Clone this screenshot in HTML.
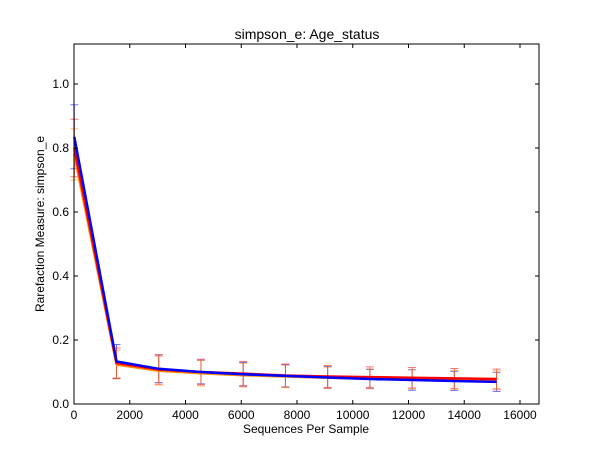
<!DOCTYPE html>
<html><head><meta charset="utf-8"><style>
body{margin:0;background:#fff;font-family:"Liberation Sans",sans-serif}
svg text{font-family:"Liberation Sans",sans-serif;fill:#000}
</style></head><body>
<svg id="chart" width="600" height="450" xmlns="http://www.w3.org/2000/svg">
<rect width="600" height="450" fill="#fff"/>
<text x="307" y="39" font-size="14" text-anchor="middle">simpson_e: Age_status</text>
<text x="306" y="433" font-size="12" text-anchor="middle">Sequences Per Sample</text>
<text transform="translate(44,224) rotate(-90)" font-size="12" text-anchor="middle">Rarefaction Measure: simpson_e</text>
<g id="marks"></g>
<g id="axes"></g>
</svg>
<script>
const xs = [10,1525,3040,4555,6070,7585,9100,10615,12130,13645,15160];
const blueVals = [0.835,0.133,0.110,0.100,0.093,0.088,0.083,0.078,0.075,0.072,0.069];
const redVals = [0.800,0.128,0.108,0.100,0.095,0.089,0.086,0.084,0.082,0.080,0.078];
const orangeVals = [0.780,0.123,0.104,0.096,0.090,0.086,0.082,0.079,0.077,0.075,0.074];
const blueErr = [0.100,0.053,0.043,0.037,0.037,0.035,0.034,0.030,0.032,0.030,0.030];
const redErr = [0.090,0.047,0.046,0.040,0.038,0.036,0.034,0.032,0.032,0.031,0.031];
const orangeErr = [0.080,0.045,0.045,0.040,0.037,0.035,0.033,0.031,0.030,0.030,0.030];
const xTicks = [0,2000,4000,6000,8000,10000,12000,14000,16000];
const yTicks = [0.0,0.2,0.4,0.6,0.8,1.0];
const L=74,R=539,T=44,B=404, XMAX=16682, YMAX=1.125;
const sx=v=>L+v/XMAX*(R-L), sy=v=>B-v/YMAX*(B-T);
const NS="http://www.w3.org/2000/svg";
const marks=document.getElementById('marks'), axes=document.getElementById('axes');
function mk(tag,attrs,parent){const e=document.createElementNS(NS,tag);for(const k in attrs)e.setAttribute(k,attrs[k]);parent.appendChild(e);return e;}
const series=[["blue",blueVals,blueErr,"#0000ff"],["red",redVals,redErr,"#ff0000"],["orange",orangeVals,orangeErr,"#ff8c00"]];
series.forEach(([nm,vals,errs,col])=>{
  vals.forEach((v,i)=>{
    const x=sx(xs[i]);
    const g=mk('g',{stroke:col,'stroke-width':1,opacity:0.55},marks);
    
    
    mk('line',{x1:x,x2:x,y1:sy(v-errs[i]),y2:sy(v+errs[i])},g);
    mk('line',{x1:x-4,x2:x+4,y1:sy(v-errs[i]),y2:sy(v-errs[i])},g);
    mk('line',{x1:x-4,x2:x+4,y1:sy(v+errs[i]),y2:sy(v+errs[i])},g);
  });
});
[["orange",orangeVals,"#ff8c00"],["red",redVals,"#ff0000"],["blue",blueVals,"#0000ff"]].forEach(([nm,vals,col])=>{
  const p=mk('polyline',{points:vals.map((v,i)=>sx(xs[i])+','+sy(v)).join(' '),fill:'none',stroke:col,'stroke-width':2.5,'stroke-linejoin':'round'},marks);
  
  
});
const frame=mk('rect',{x:L,y:T,width:R-L,height:B-T,fill:'none',stroke:'#000','stroke-width':1},axes);


xTicks.forEach(t=>{
  const x=sx(t);
  mk('line',{x1:x,x2:x,y1:B,y2:B-4,stroke:'#000'},axes);
  mk('line',{x1:x,x2:x,y1:T,y2:T+4,stroke:'#000'},axes);
  const tx=mk('text',{x:x,y:B+15,'font-size':12,'text-anchor':'middle'},axes);
  tx.textContent=t;
  
  
});
yTicks.forEach(t=>{
  const y=sy(t);
  mk('line',{x1:L,x2:L+4,y1:y,y2:y,stroke:'#000'},axes);
  mk('line',{x1:R,x2:R-4,y1:y,y2:y,stroke:'#000'},axes);
  const tx=mk('text',{x:L-5,y:y+4,'font-size':12,'text-anchor':'end'},axes);
  tx.textContent=t.toFixed(1);
  
  
});
</script>
</body></html>
